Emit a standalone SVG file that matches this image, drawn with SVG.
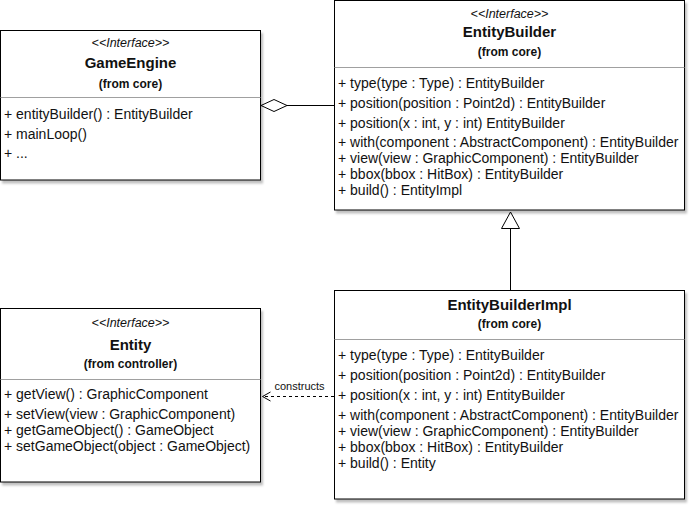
<svg xmlns="http://www.w3.org/2000/svg" width="696" height="513" viewBox="0 0 696 513">
<style>
text{font-family:"Liberation Sans",Arial,sans-serif;fill:#111}
.st{font-size:12.5px;font-style:italic;text-anchor:middle}
.ti{font-size:15px;font-weight:bold;text-anchor:middle}
.fr{font-size:12px;font-weight:bold;text-anchor:middle}
.m{font-size:14px}
.box{fill:#fff;stroke:#000;stroke-width:1;filter:url(#sh)}
.div{stroke:#a0a0a0;stroke-width:1}
.lbl{font-size:11px}
</style>
<defs>
<filter id="sh" x="-5%" y="-5%" width="115%" height="115%">
<feDropShadow dx="2" dy="3" stdDeviation="1.2" flood-color="#000" flood-opacity="0.25"/>
</filter>
</defs>
<rect width="696" height="513" fill="#fff"/>
<g id="connectors">
<line x1="287" y1="105.5" x2="334.5" y2="105.5" stroke="#000"/>
<polygon points="261,105.5 274,99.5 287,105.5 274,111.5" fill="#fff" stroke="#000"/>
<line x1="510.5" y1="228" x2="510.5" y2="290.5" stroke="#000"/>
<polygon points="510.5,212 501.5,228.5 519.5,228.5" fill="#fff" stroke="#000"/>
<line x1="334" y1="396.5" x2="263" y2="396.5" stroke="#000" stroke-dasharray="3,3"/>
<polyline points="270.5,392 262.5,396.5 270.5,401" fill="none" stroke="#000"/>
<rect x="272" y="381" width="55" height="12" fill="#fff"/>
<text class="lbl" x="299.5" y="390" text-anchor="middle">constructs</text>
</g>
<g id="GameEngine">
<rect class="box" x="0.5" y="30.5" width="260" height="149.5"/>
<line class="div" x1="0.5" y1="97.5" x2="260.5" y2="97.5"/>
<text class="st" x="130.5" y="47">&lt;&lt;Interface&gt;&gt;</text>
<text class="ti" x="130.5" y="68">GameEngine</text>
<text class="fr" x="130.5" y="88">(from core)</text>
<text class="m" x="4" y="119">+ entityBuilder() : EntityBuilder</text>
<text class="m" x="4" y="139">+ mainLoop()</text>
<text class="m" x="4" y="158">+ ...</text>
</g>
<g id="EntityBuilder">
<rect class="box" x="334.5" y="0.5" width="350" height="209.5"/>
<line class="div" x1="334.5" y1="67.5" x2="684.5" y2="67.5"/>
<text class="st" x="509.5" y="18">&lt;&lt;Interface&gt;&gt;</text>
<text class="ti" x="509.5" y="37">EntityBuilder</text>
<text class="fr" x="509.5" y="56">(from core)</text>
<text class="m" x="338" y="88">+ type(type : Type) : EntityBuilder</text>
<text class="m" x="338" y="108">+ position(position : Point2d) : EntityBuilder</text>
<text class="m" x="338" y="128">+ position(x : int, y : int) EntityBuilder</text>
<text class="m" x="338" y="147">+ with(component : AbstractComponent) : EntityBuilder</text>
<text class="m" x="338" y="163">+ view(view : GraphicComponent) : EntityBuilder</text>
<text class="m" x="338" y="179">+ bbox(bbox : HitBox) : EntityBuilder</text>
<text class="m" x="338" y="195">+ build() : EntityImpl</text>
</g>
<g id="Entity">
<rect class="box" x="0.5" y="308.5" width="260" height="173.5"/>
<line class="div" x1="0.5" y1="379.5" x2="260.5" y2="379.5"/>
<text class="st" x="130.5" y="327">&lt;&lt;Interface&gt;&gt;</text>
<text class="ti" x="130.5" y="350">Entity</text>
<text class="fr" x="130.5" y="367.5">(from controller)</text>
<text class="m" x="4" y="399">+ getView() : GraphicComponent</text>
<text class="m" x="4" y="419">+ setView(view : GraphicComponent)</text>
<text class="m" x="4" y="435">+ getGameObject() : GameObject</text>
<text class="m" x="4" y="451">+ setGameObject(object : GameObject)</text>
</g>
<g id="EntityBuilderImpl">
<rect class="box" x="334.5" y="290.5" width="350" height="208.5"/>
<line class="div" x1="334.5" y1="339.5" x2="684.5" y2="339.5"/>
<text class="ti" x="509.5" y="310">EntityBuilderImpl</text>
<text class="fr" x="509.5" y="328">(from core)</text>
<text class="m" x="338" y="360">+ type(type : Type) : EntityBuilder</text>
<text class="m" x="338" y="380">+ position(position : Point2d) : EntityBuilder</text>
<text class="m" x="338" y="400">+ position(x : int, y : int) EntityBuilder</text>
<text class="m" x="338" y="420">+ with(component : AbstractComponent) : EntityBuilder</text>
<text class="m" x="338" y="436">+ view(view : GraphicComponent) : EntityBuilder</text>
<text class="m" x="338" y="452">+ bbox(bbox : HitBox) : EntityBuilder</text>
<text class="m" x="338" y="468">+ build() : Entity</text>
</g>
</svg>
